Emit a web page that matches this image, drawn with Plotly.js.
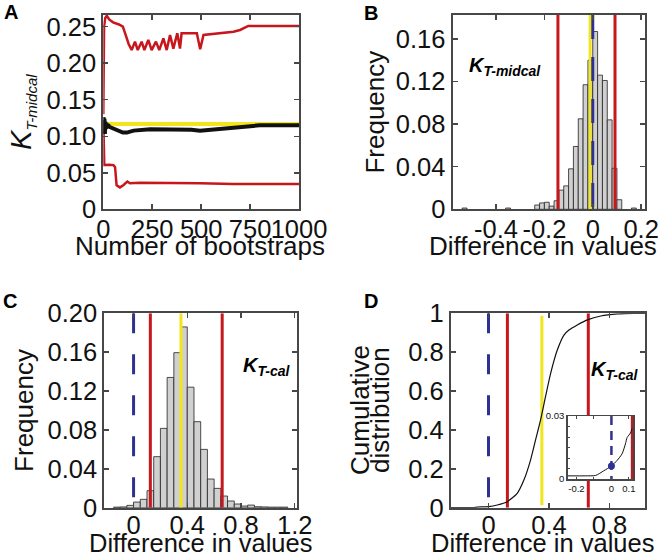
<!DOCTYPE html>
<html><head><meta charset="utf-8">
<script src="https://cdn.plot.ly/plotly-3.0.1.min.js"></script>
<style>html,body{margin:0;padding:0;background:#fff}#chart{width:663px;height:559px}</style>
</head><body><div id="chart"></div>
<script>
// ---------- Panel A: bootstrap convergence of K_T-midcal ----------
const aUpperX = [0,2,4,10,18,30,50,80,100,115,130,145,162,176,196,210,230,247,269,286,307,324,341,358,378,392,400,478,495,512,580,665,699,741,1000];
const aUpperY = [0.13,0.2,0.25,0.262,0.265,0.26,0.256,0.253,0.25,0.238,0.226,0.218,0.2295,0.218,0.2295,0.218,0.232,0.218,0.2295,0.218,0.234,0.218,0.2386,0.22,0.241,0.22,0.241,0.241,0.219,0.2386,0.241,0.243,0.2455,0.251,0.251];
const aLowerX = [0,3,5,30,52,60,68,85,102,123,136,187,409,494,665,1000];
const aLowerY = [0.122,0.08,0.0607,0.061,0.0605,0.058,0.033,0.030,0.033,0.038,0.0356,0.0365,0.0365,0.0356,0.0347,0.0347];
const aMeanX = [0,2,4,6,8,10,13,16,20,25,30,40,50,65,80,100,120,155,240,300,392,450,494,550,650,741,800,900,1000];
const aMeanY = [0.12,0.126,0.108,0.124,0.103,0.12,0.11,0.118,0.112,0.116,0.113,0.112,0.111,0.109,0.107,0.105,0.105,0.1077,0.1095,0.1095,0.1095,0.109,0.1077,0.109,0.111,0.113,0.115,0.115,0.115];
const aRefX = [0,1000];
const aRefY = [0.1168,0.1168];
const aTickVals = [0,0.05,0.10,0.15,0.20,0.25];
const aTickText = ['0','0.05','0.10','0.15','0.20','0.25'];
const aXTickVals = [0,250,500,750,1000];
const aXTitle = 'Number of bootstraps';

// ---------- Panel B: histogram of differences, K_T-midcal ----------
const bCenters = [-0.53,-0.35,-0.23,-0.21,-0.19,-0.17,-0.15,-0.13,-0.11,-0.09,-0.07,-0.05,-0.03,-0.01,0.01,0.03,0.05,0.07,0.09,0.11,0.17];
const bFreq    = [0.0012,0.0012,0.004,0.006,0.0066,0.003,0.008,0.018,0.022,0.038,0.059,0.085,0.117,0.14,0.167,0.126,0.121,0.084,0.0385,0.009,0.0012];
const bBinWidth = 0.02;
const bCI = [-0.144, 0.092];
const bEstimate = [-0.011];
const bNull = [0];
const bXTickVals = [-0.4,-0.2,0,0.2];
const bXTickText = ['-0.4','-0.2','0','0.2'];
const bYTickVals = [0,0.04,0.08,0.12,0.16];
const bYTickText = ['0','0.04','0.08','0.12','0.16'];
const diffTitle = 'Difference in values';

// ---------- Panel C: histogram of differences, K_T-cal ----------
const cCenters = [-0.125,-0.075,-0.025,0.025,0.075,0.125,0.175,0.225,0.275,0.325,0.375,0.425,0.475,0.525,0.575,0.625,0.675,0.725,0.775,0.825,0.875,0.925,0.975,1.025,1.075,1.125];
const cFreq    = [0.0006,0.0008,0.0024,0.0058,0.0086,0.0175,0.0525,0.0816,0.134,0.1595,0.186,0.124,0.0885,0.060,0.0295,0.0199,0.012,0.0069,0.0038,0.0017,0.0027,0.001,0.0008,0.0006,0.0006,0.0006];
const cBinWidth = 0.05;
const calCI = [0.125, 0.66];
const calEstimate = [0.353];
const calNull = [0];
const cXTickVals = [0,0.4,0.8,1.2];
const cXTickText = ['0','0.4','0.8','1.2'];
const cYTickVals = [0,0.04,0.08,0.12,0.16,0.20];
const cYTickText = ['0','0.04','0.08','0.12','0.16','0.20'];

// ---------- Panel D: cumulative distribution, K_T-cal ----------
const dX = [-0.25,-0.1,-0.075,0,0.058,0.124,0.19,0.234,0.278,0.311,0.344,0.377,0.411,0.455,0.499,0.532,0.587,0.654,0.742,0.852,0.962,1.04];
const dY = [0,0.001,0.003,0.006,0.014,0.031,0.074,0.142,0.245,0.348,0.451,0.571,0.691,0.811,0.888,0.914,0.94,0.966,0.986,0.997,1.0,1.0];
const dXTickVals = [0,0.4,0.8];
const dXTickText = ['0','0.4','0.8'];
const dYTickVals = [0,0.2,0.4,0.6,0.8,1];
const dYTickText = ['0','0.2','0.4','0.6','0.8','1'];
const dYTitleLines = ['Cumulative','distribution'];
// inset (zoom of the lower tail)
const insetX = [-0.25,-0.15,-0.09,-0.044,0,0.033,0.061,0.08,0.09,0.109,0.118];
const insetY = [0.0015,0.0015,0.0017,0.0039,0.0062,0.0089,0.012,0.0167,0.0198,0.0219,0.024];
const insetDotX = [0];
const insetDotY = [0.0062];
const insetXTickVals = [-0.2,-0.1,0,0.1];
const insetXTickText = ['-0.2','','0','0.1'];
const insetYTickVals = [0,0.005,0.01,0.015,0.02,0.025,0.03];
const insetYTickText = ['0','','','','','','0.03'];

// ---------- styling ----------
const RED = '#c8161d', YEL = '#f2e51b', BLU = '#2e3192', FRAME = '#474747';
const FONT = '"Liberation Sans", Arial, Helvetica, sans-serif';

function vline(xv, yr, color, width, dash, xa, ya) {
  return {x:[xv,xv], y:yr, mode:'lines', type:'scatter', xaxis:xa, yaxis:ya,
          line:{color:color, width:width, dash:dash||'solid'}};
}

const traces = [];
// A
traces.push({x:aRefX, y:aRefY, mode:'lines', line:{color:YEL, width:4}, xaxis:'x', yaxis:'y'});
traces.push({x:aUpperX, y:aUpperY, mode:'lines', line:{color:RED, width:2.5}, xaxis:'x', yaxis:'y'});
traces.push({x:aLowerX, y:aLowerY, mode:'lines', line:{color:RED, width:2.5}, xaxis:'x', yaxis:'y'});
traces.push({x:aMeanX, y:aMeanY, mode:'lines', line:{color:'#111', width:4}, xaxis:'x', yaxis:'y'});
// B
traces.push({type:'bar', x:bCenters, y:bFreq, width:bBinWidth, xaxis:'x2', yaxis:'y2',
  marker:{color:'#d0d0d0', line:{color:'#222', width:0.8}}});
bCI.forEach(v => traces.push(vline(v, [0,0.1825], RED, 3, null, 'x2','y2')));
bEstimate.forEach(v => traces.push(vline(v, [0,0.1825], YEL, 3, null, 'x2','y2')));
bNull.forEach(v => traces.push(vline(v, [0.1825,0], BLU, 3, '24px,18px', 'x2','y2')));
// C
traces.push({type:'bar', x:cCenters, y:cFreq, width:cBinWidth, xaxis:'x3', yaxis:'y3',
  marker:{color:'#d0d0d0', line:{color:'#222', width:0.8}}});
calCI.forEach(v => traces.push(vline(v, [0,0.2], RED, 3, null, 'x3','y3')));
calEstimate.forEach(v => traces.push(vline(v, [0,0.2], YEL, 3, null, 'x3','y3')));
calNull.forEach(v => traces.push(vline(v, [0.2,0], BLU, 3, '20px,21px', 'x3','y3')));
// D
calCI.forEach(v => traces.push(vline(v, [0,1], RED, 3, null, 'x4','y4')));
calEstimate.forEach(v => traces.push(vline(v, [0.012,0.988], YEL, 3, null, 'x4','y4')));
calNull.forEach(v => traces.push(vline(v, [1,0], BLU, 3, '20px,21px', 'x4','y4')));
traces.push({x:dX, y:dY, mode:'lines', line:{color:'#111', width:1.2, shape:'spline', smoothing:0.6}, xaxis:'x4', yaxis:'y4'});
// inset
calNull.forEach(v => traces.push(vline(v, [0.03,0], BLU, 2.5, '9px,6px', 'x5','y5')));
traces.push(vline(calCI[0]-0.007, [0,0.03], RED, 2.5, null, 'x5','y5'));
traces.push({x:insetX, y:insetY, mode:'lines', line:{color:'#111', width:1, shape:'spline', smoothing:0.6}, xaxis:'x5', yaxis:'y5'});
traces.push({x:insetDotX, y:insetDotY, mode:'markers', marker:{color:BLU, size:7}, xaxis:'x5', yaxis:'y5'});
traces.forEach(t => { t.showlegend = false; t.hoverinfo = 'skip'; });

const TICKFONT = {size:25.5, color:'#111', family:FONT};
function ax(extra) {
  return Object.assign({showline:true, linecolor:FRAME, linewidth:2, mirror:'ticks', ticks:'inside',
    ticklen:5, tickwidth:1.5, tickcolor:FRAME, showgrid:false, zeroline:false, tickangle:0,
    tickfont:TICKFONT, fixedrange:true, automargin:false}, extra);
}
const W = 663, H = 559;
const px = (a,b) => [a/W, b/W];
const py = (top,bot) => [1-bot/H, 1-top/H];

const titleFont = {size:26, color:'#111', family:FONT};
const bottomTitleFont = {size:25.5, color:'#111', family:FONT};

const annFont = (s) => ({size:s, color:'#000', family:FONT});
const annotations = [
  {text:'<b>A</b>', x:2/W, y:1-12/H, font:annFont(20)},
  {text:'<b>B</b>', x:362/W, y:1-13.5/H, font:annFont(20)},
  {text:'<b>C</b>', x:1/W, y:1-301/H, font:annFont(20)},
  {text:'<b>D</b>', x:362/W, y:1-301/H, font:annFont(20)},
  {text:'<b><i>K<sub>T-midcal</sub></i></b>', x:467/W, y:1-66/H, font:annFont(20)},
  {text:'<b><i>K<sub>T-cal</sub></i></b>', x:241/W, y:1-366/H, font:annFont(20)},
  {text:'<b><i>K<sub>T-cal</sub></i></b>', x:589/W, y:1-370/H, font:annFont(20)},
  {text:aXTitle, x:200/W, y:1-245.5/H, xanchor:'center', font:titleFont},
  {text:diffTitle, x:543/W, y:1-245.5/H, xanchor:'center', font:titleFont},
  {text:diffTitle, x:201/W, y:1-543/H, xanchor:'center', borderpad:0, font:bottomTitleFont},
  {text:diffTitle, x:543/W, y:1-543/H, xanchor:'center', borderpad:0, font:bottomTitleFont},
  {text:dYTitleLines[0], x:360/W, y:1-410/H, textangle:-90, xanchor:'center', font:titleFont},
  {text:dYTitleLines[1], x:380/W, y:1-410/H, textangle:-90, xanchor:'center', font:titleFont}
].map(a => Object.assign({xref:'paper', yref:'paper', xanchor:'left', yanchor:'middle', showarrow:false}, a));

const layout = {
  width:W, height:H, margin:{l:0,r:0,t:0,b:0}, paper_bgcolor:'#fff', plot_bgcolor:'#fff',
  showlegend:false, bargap:0, font:{family:FONT, color:'#111'},
  xaxis: ax({domain:px(103.3,299), anchor:'y', range:[0,1000], tickvals:aXTickVals, ticklabelstandoff:-4}),
  yaxis: ax({domain:py(15,209.3), anchor:'x', range:[0,0.266], tickvals:aTickVals, ticktext:aTickText,
    title:{text:'<i>K</i><sub><i><span style="font-size:15px">T-midcal</span></i></sub>', font:{size:29,color:'#111',family:FONT}, standoff:6}}),
  xaxis2: ax({domain:px(452.5,645), anchor:'y2', range:[-0.58,0.216], tickvals:bXTickVals, ticktext:bXTickText, ticklabelstandoff:-4}),
  yaxis2: ax({domain:py(15,209.3), anchor:'x2', range:[0,0.1825], tickvals:bYTickVals, ticktext:bYTickText,
    title:{text:'Frequency', font:titleFont, standoff:4}}),
  xaxis3: ax({domain:px(104.3,296.7), anchor:'y3', range:[-0.218,1.215], tickvals:cXTickVals, ticktext:cXTickText, ticklabelstandoff:-6}),
  yaxis3: ax({domain:py(313.3,507.7), anchor:'x3', range:[0,0.2], tickvals:cYTickVals, ticktext:cYTickText,
    title:{text:'Frequency', font:titleFont, standoff:6}}),
  xaxis4: ax({domain:px(450.7,645), anchor:'y4', range:[-0.25,1.035], tickvals:dXTickVals, ticktext:dXTickText, ticklabelstandoff:-6}),
  yaxis4: ax({domain:py(313.3,507.7), anchor:'x4', range:[0,1], tickvals:dYTickVals, ticktext:dYTickText}),
  xaxis5: ax({domain:px(567.7,633.3), anchor:'y5', range:[-0.25,0.125], tickvals:insetXTickVals, ticktext:insetXTickText,
    linewidth:1.5, ticklen:2.5, tickwidth:1, tickfont:{size:9.5,color:'#111',family:FONT}}),
  yaxis5: ax({domain:py(416,479), anchor:'x5', range:[0,0.03], tickvals:insetYTickVals, ticktext:insetYTickText,
    linewidth:1.5, ticklen:2.5, tickwidth:1, tickfont:{size:9.5,color:'#111',family:FONT}}),
  annotations: annotations
};

Plotly.newPlot('chart', traces, layout, {staticPlot:true, displayModeBar:false});
</script></body></html>
